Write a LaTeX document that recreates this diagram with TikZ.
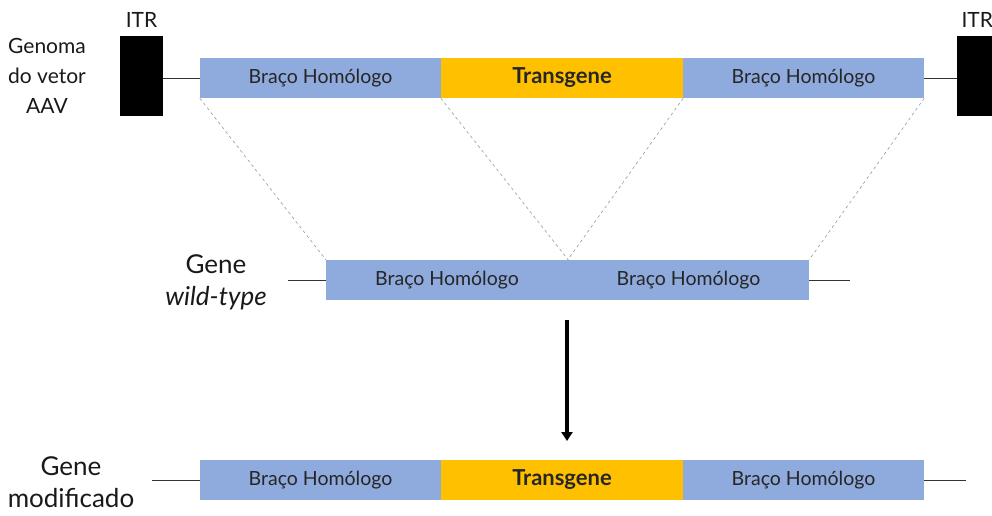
\documentclass[tikz,border=0pt]{standalone}
\usepackage{fontspec}
\setmainfont{Lato}
\usetikzlibrary{arrows.meta}
\definecolor{armblue}{HTML}{8FAADC}
\definecolor{tgorange}{HTML}{FFC000}
\begin{document}
\begin{tikzpicture}[x=1pt,y=-1pt,
  seg/.style={draw=none,minimum height=40pt,inner sep=0pt,font=\fontsize{19.5}{22}\selectfont,text=black!85},
  arm/.style={seg,fill=armblue},
  tg/.style={seg,fill=tgorange,font=\fontsize{22}{24}\selectfont\bfseries},
  itr/.style={fill=black,minimum width=43pt,minimum height=80pt,inner sep=0pt},
  itrlbl/.style={font=\fontsize{21}{24}\selectfont,text=black!90},
  lbl/.style={font=\fontsize{21}{30}\selectfont,align=center,text=black!90},
  biglbl/.style={font=\fontsize{26}{32}\selectfont,align=center,text=black!90},
  wire/.style={draw=black!80,line width=0.8pt},
  guide/.style={draw=black!40,dashed,line width=0.6pt}]
\useasboundingbox (0,0) rectangle (992,515);
% top row
\node[arm,minimum width=241pt] (a1) at (320.5,78) {Braço Homólogo};
\node[tg,minimum width=242pt] (t1) at (562,78) {Transgene};
\node[arm,minimum width=241pt] (a2) at (803.5,78) {Braço Homólogo};
\node[itr] (itrL) at (141.5,76) {};
\node[itr] (itrR) at (978.5,76) {};
\node[itrlbl] (itrLt) at (141.5,20) {ITR};
\node[itrlbl,anchor=west] (itrRt) at (958,20) {ITR};
\node[lbl] (genoma) at (47,76) {Genoma\\do vetor\\AAV};
\draw[wire] (itrL.east |- a1.west) -- (a1.west);
\draw[wire] (a2.east) -- (itrR.west |- a2.east);
% middle row
\node[arm,minimum width=242pt] (m1) at (447,280) {Braço Homólogo};
\node[arm,minimum width=241pt] (m2) at (688.5,280) {Braço Homólogo};
\coordinate (mL) at (288,280);
\coordinate (mR) at (850,280);
\draw[wire] (mL) -- (m1.west);
\draw[wire] (m2.east) -- (mR);
\node[biglbl] (wt) at (216,282) {Gene\\\itshape wild-type};
% dashed guides
\draw[guide] (a1.south west) -- (m1.north west);
\draw[guide] (t1.south west) -- (m1.north east);
\draw[guide] (t1.south east) -- (m2.north west);
\draw[guide] (a2.south east) -- (m2.north east);
% arrow
\coordinate (arS) at (567,320);
\coordinate (arE) at (567,441);
\draw[line width=3.4pt,-{Triangle[length=9pt,width=11pt]}] (arS) -- (arE);
% bottom row
\node[arm,minimum width=241pt] (b1) at (320.5,480) {Braço Homólogo};
\node[tg,minimum width=242pt] (t2) at (562,480) {Transgene};
\node[arm,minimum width=241pt] (b2) at (803.5,480) {Braço Homólogo};
\coordinate (bL) at (152,480);
\coordinate (bR) at (966,480);
\draw[wire] (bL) -- (b1.west);
\draw[wire] (b2.east) -- (bR);
\node[biglbl] (mod) at (71,482) {Gene\\modificado};
\end{tikzpicture}
\end{document}
